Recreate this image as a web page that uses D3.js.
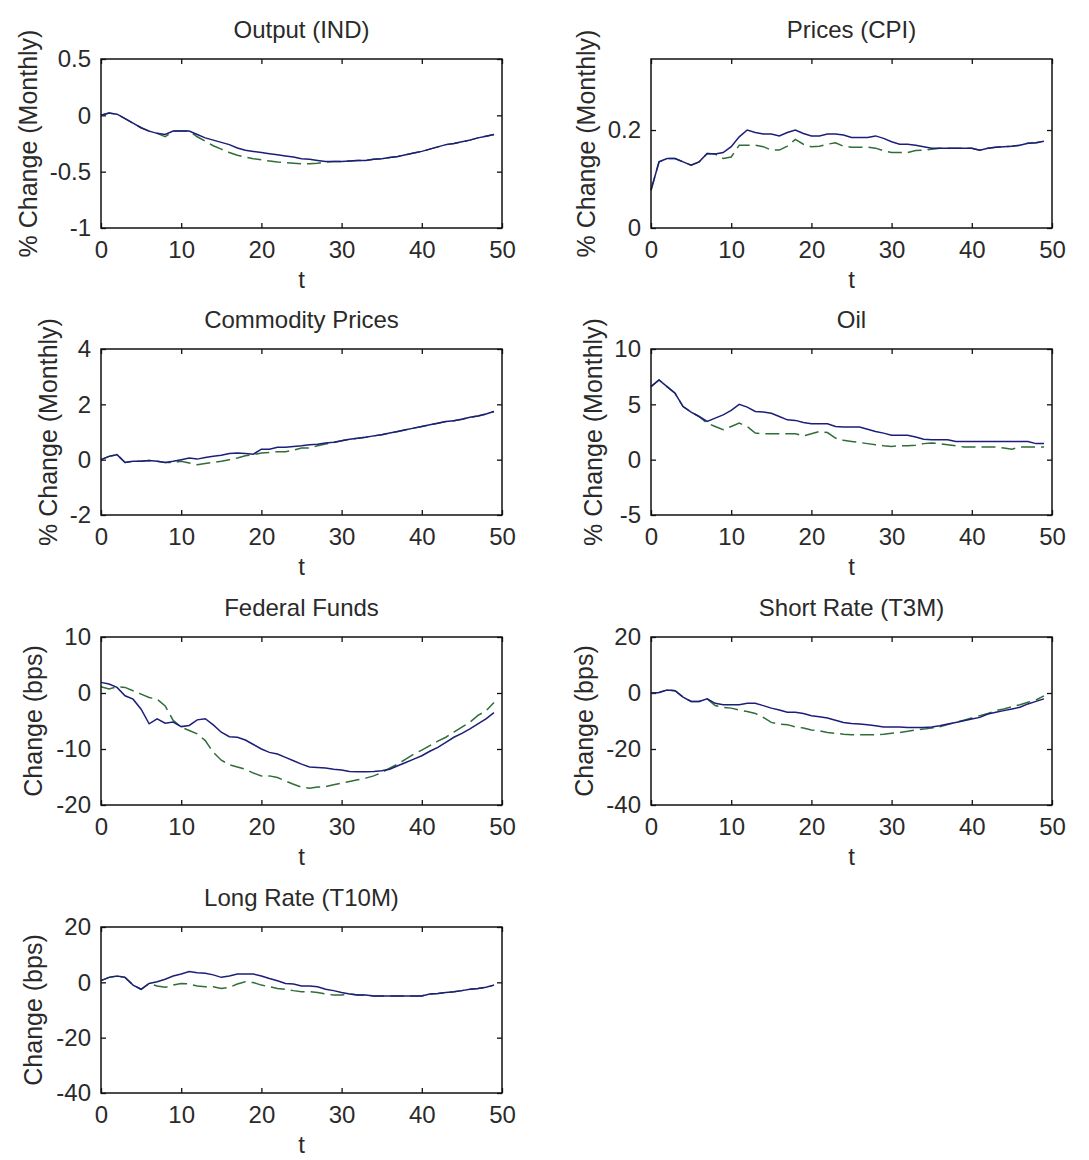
<!DOCTYPE html>
<html>
<head>
<meta charset="utf-8">
<script src="https://cdn.jsdelivr.net/npm/d3@7"></script>
<style>
  html, body { margin: 0; padding: 0; background: #ffffff; }
  svg { display: block; }
</style>
</head>
<body>
<svg id="fig" width="1089" height="1160"></svg>
<script>
// Impulse responses, horizons t = 0..49
const horizons = d3.range(0, 50);
const xTicks = [0, 10, 20, 30, 40, 50];

const titles = ["Output (IND)", "Prices (CPI)", "Commodity Prices", "Oil",
                "Federal Funds", "Short Rate (T3M)", "Long Rate (T10M)"];
const yLabels = ["% Change (Monthly)", "% Change (Monthly)", "% Change (Monthly)",
                 "% Change (Monthly)", "Change (bps)", "Change (bps)", "Change (bps)"];
const yDomains = [[-1, 0.5], [0, 0.345], [-2, 4], [-5, 10], [-20, 10], [-40, 20], [-40, 20]];
const yTicks = [[-1, -0.5, 0, 0.5], [0, 0.2], [-2, 0, 2, 4], [-5, 0, 5, 10],
                [-20, -10, 0, 10], [-40, -20, 0, 20], [-40, -20, 0, 20]];

const outputSolid = [0.0, 0.02, 0.01, -0.03, -0.07, -0.11, -0.14, -0.16, -0.17, -0.14,
  -0.14, -0.14, -0.17, -0.20, -0.22, -0.24, -0.26, -0.29, -0.31, -0.32,
  -0.33, -0.34, -0.35, -0.36, -0.37, -0.385, -0.39, -0.40, -0.41, -0.41,
  -0.41, -0.405, -0.40, -0.40, -0.39, -0.385, -0.375, -0.365, -0.35, -0.335,
  -0.32, -0.30, -0.28, -0.26, -0.25, -0.235, -0.22, -0.20, -0.185, -0.17];
const outputDashed = [0.0, 0.02, 0.01, -0.03, -0.07, -0.11, -0.14, -0.16, -0.19, -0.14,
  -0.14, -0.14, -0.19, -0.23, -0.27, -0.30, -0.33, -0.355, -0.37, -0.385,
  -0.395, -0.405, -0.415, -0.42, -0.425, -0.43, -0.43, -0.425, -0.415, -0.41,
  -0.41, -0.405, -0.40, -0.40, -0.39, -0.385, -0.375, -0.365, -0.35, -0.335,
  -0.32, -0.30, -0.28, -0.26, -0.25, -0.235, -0.22, -0.20, -0.185, -0.17];

const cpiSolid = [0.077, 0.135, 0.142, 0.142, 0.135, 0.128, 0.135, 0.152, 0.151, 0.154,
  0.166, 0.186, 0.200, 0.195, 0.192, 0.192, 0.188, 0.195, 0.200, 0.193,
  0.188, 0.188, 0.192, 0.192, 0.190, 0.185, 0.185, 0.185, 0.188, 0.183,
  0.176, 0.171, 0.171, 0.169, 0.166, 0.163, 0.163, 0.163, 0.163, 0.163,
  0.163, 0.159, 0.163, 0.165, 0.166, 0.167, 0.169, 0.173, 0.174, 0.177];
const cpiDashed = [0.077, 0.135, 0.142, 0.142, 0.135, 0.128, 0.135, 0.152, 0.151, 0.142,
  0.145, 0.169, 0.169, 0.169, 0.166, 0.159, 0.159, 0.167, 0.181, 0.171,
  0.166, 0.167, 0.171, 0.174, 0.167, 0.165, 0.165, 0.165, 0.163, 0.158,
  0.154, 0.154, 0.154, 0.158, 0.159, 0.161, 0.163, 0.163, 0.163, 0.163,
  0.163, 0.159, 0.163, 0.165, 0.166, 0.167, 0.169, 0.173, 0.174, 0.177];

const commoditySolid = [0.0, 0.12, 0.18, -0.10, -0.06, -0.06, -0.03, -0.06, -0.10, -0.06,
  0.0, 0.06, 0.02, 0.08, 0.12, 0.16, 0.22, 0.24, 0.22, 0.20,
  0.38, 0.38, 0.45, 0.45, 0.48, 0.50, 0.54, 0.56, 0.60, 0.63,
  0.68, 0.74, 0.77, 0.81, 0.86, 0.90, 0.96, 1.02, 1.08, 1.14,
  1.20, 1.26, 1.32, 1.38, 1.41, 1.46, 1.53, 1.58, 1.65, 1.74];
const commodityDashed = [0.0, 0.12, 0.18, -0.10, -0.06, -0.06, -0.03, -0.06, -0.10, -0.10,
  -0.06, -0.12, -0.18, -0.14, -0.10, -0.06, 0.0, 0.06, 0.14, 0.18,
  0.24, 0.26, 0.29, 0.29, 0.34, 0.42, 0.42, 0.50, 0.57, 0.62,
  0.68, 0.74, 0.77, 0.81, 0.86, 0.90, 0.96, 1.02, 1.08, 1.14,
  1.20, 1.26, 1.32, 1.38, 1.41, 1.46, 1.53, 1.58, 1.65, 1.74];

const oilSolid = [6.6, 7.2, 6.6, 6.0, 4.8, 4.3, 3.9, 3.45, 3.75, 4.05,
  4.45, 5.0, 4.75, 4.35, 4.3, 4.2, 3.9, 3.6, 3.55, 3.35,
  3.25, 3.25, 3.25, 3.0, 2.95, 2.95, 2.95, 2.75, 2.55, 2.4,
  2.2, 2.2, 2.2, 2.05, 1.85, 1.8, 1.8, 1.8, 1.65, 1.65,
  1.65, 1.65, 1.65, 1.65, 1.65, 1.65, 1.65, 1.65, 1.45, 1.45];
const oilDashed = [6.6, 7.2, 6.6, 6.0, 4.8, 4.3, 3.9, 3.3, 3.0, 2.7,
  3.0, 3.3, 3.0, 2.4, 2.35, 2.35, 2.35, 2.35, 2.35, 2.15,
  2.35, 2.55, 2.45, 1.95, 1.75, 1.65, 1.55, 1.45, 1.35, 1.25,
  1.2, 1.25, 1.25, 1.3, 1.45, 1.5, 1.45, 1.35, 1.25, 1.15,
  1.15, 1.15, 1.15, 1.15, 1.05, 0.95, 1.15, 1.15, 1.15, 1.15];

const fedSolid = [1.9, 1.6, 1.0, -0.5, -1.1, -2.9, -5.5, -4.6, -5.4, -5.2,
  -6.0, -5.8, -4.8, -4.6, -5.7, -7.0, -7.8, -7.9, -8.4, -9.2,
  -10.0, -10.6, -10.9, -11.5, -12.1, -12.7, -13.2, -13.3, -13.4, -13.6,
  -13.75, -14.0, -14.05, -14.05, -14.0, -13.9, -13.6, -13.0, -12.4, -11.8,
  -11.2, -10.4, -9.7, -8.8, -7.9, -7.2, -6.4, -5.5, -4.6, -3.5];
const fedDashed = [1.1, 0.7, 1.1, 1.0, 0.4, -0.2, -0.8, -1.1, -2.3, -4.9,
  -6.1, -6.7, -7.3, -8.5, -10.6, -12.0, -12.8, -13.2, -13.6, -14.3,
  -14.8, -14.8, -15.1, -15.7, -16.3, -16.8, -17.0, -16.8, -16.7, -16.4,
  -16.1, -15.8, -15.5, -15.2, -14.8, -14.2, -13.4, -12.7, -11.8, -10.9,
  -10.2, -9.4, -8.6, -7.9, -7.0, -6.1, -5.2, -4.0, -3.2, -1.7];

const shortSolid = [0.0, 0.2, 1.1, 0.8, -1.5, -3.0, -3.0, -2.1, -3.7, -4.2,
  -4.2, -4.2, -3.7, -3.7, -4.5, -5.4, -6.1, -6.9, -6.9, -7.3,
  -8.1, -8.5, -8.9, -9.7, -10.5, -10.9, -11.1, -11.3, -11.7, -12.1,
  -12.1, -12.1, -12.3, -12.3, -12.3, -12.1, -11.7, -11.1, -10.5, -9.9,
  -9.3, -8.7, -7.5, -6.9, -6.3, -5.7, -5.1, -3.9, -3.0, -2.1];
const shortDashed = [0.0, 0.2, 1.1, 0.8, -1.5, -3.0, -3.0, -2.1, -4.5, -5.1,
  -5.4, -6.1, -6.6, -7.3, -8.7, -10.5, -11.1, -11.3, -12.1, -12.5,
  -13.2, -13.5, -14.1, -14.4, -14.7, -14.9, -14.9, -14.9, -14.9, -14.7,
  -14.4, -14.1, -13.7, -13.2, -12.9, -12.5, -12.1, -11.3, -10.5, -9.7,
  -8.9, -8.1, -7.3, -6.3, -5.7, -4.9, -4.2, -3.3, -2.5, -1.0];

const longSolid = [0.6, 1.8, 2.3, 1.8, -1.0, -2.5, -0.4, 0.2, 1.1, 2.3,
  3.0, 3.9, 3.5, 3.3, 2.7, 1.8, 2.3, 3.0, 3.0, 3.0,
  2.3, 1.4, 0.6, -0.4, -0.6, -1.3, -1.3, -1.6, -2.5, -3.0,
  -3.7, -4.2, -4.6, -4.6, -4.9, -4.9, -4.9, -4.9, -4.9, -4.9,
  -4.9, -4.2, -4.0, -3.7, -3.4, -3.0, -2.5, -2.2, -1.8, -1.0];
const longDashed = [0.6, 1.8, 2.3, 1.8, -1.0, -2.5, -0.4, -1.3, -1.8, -1.0,
  -0.4, -0.6, -1.3, -1.6, -1.6, -2.2, -1.8, -0.6, 0.2, -0.1,
  -1.0, -1.6, -2.2, -2.5, -3.0, -3.4, -3.4, -3.7, -4.2, -4.6,
  -4.6, -4.2, -4.6, -4.6, -4.9, -4.9, -4.9, -4.9, -4.9, -4.9,
  -4.9, -4.2, -4.0, -3.7, -3.4, -3.0, -2.5, -2.2, -1.8, -1.0];

const solidSeries = [outputSolid, cpiSolid, commoditySolid, oilSolid, fedSolid, shortSolid, longSolid];
const dashedSeries = [outputDashed, cpiDashed, commodityDashed, oilDashed, fedDashed, shortDashed, longDashed];

// ---- layout of the 4x2 grid of axes boxes ----
const colX = [[101, 502], [651, 1052]];
const rowY = [[59, 228], [349, 515], [637, 805], [927, 1093]];
const yLabelGap = [64, 56, 44, 49, 59, 58, 59];   // baseline distance of y label from box

const FONT = "'Liberation Sans', Arial, Helvetica, sans-serif";
const TEXT = "#2a2a2a";
const SOLID = "#1d1d7a";
const DASHED = "#2f6e38";

const svg = d3.select("#fig");

titles.forEach((title, i) => {
  const col = i % 2, row = Math.floor(i / 2);
  const [x0, x1] = colX[col];
  const [y0, y1] = rowY[row];

  const x = d3.scaleLinear().domain([0, 50]).range([x0, x1]);
  const y = d3.scaleLinear().domain(yDomains[i]).range([y1, y0]);

  const g = svg.append("g").attr("font-family", FONT);

  // inward ticks on all four sides
  const fmt = d => String(d);
  const bottom = g.append("g").attr("transform", `translate(0,${y1})`)
    .call(d3.axisBottom(x).tickValues(xTicks).tickFormat(fmt).tickSizeInner(-5).tickSizeOuter(0).tickPadding(13));
  const top = g.append("g").attr("transform", `translate(0,${y0})`)
    .call(d3.axisTop(x).tickValues(xTicks).tickFormat(() => "").tickSizeInner(-5).tickSizeOuter(0));
  const left = g.append("g").attr("transform", `translate(${x0},0)`)
    .call(d3.axisLeft(y).tickValues(yTicks[i]).tickFormat(fmt).tickSizeInner(-5).tickSizeOuter(0).tickPadding(10));
  const right = g.append("g").attr("transform", `translate(${x1},0)`)
    .call(d3.axisRight(y).tickValues(yTicks[i]).tickFormat(() => "").tickSizeInner(-5).tickSizeOuter(0));

  [bottom, top, left, right].forEach(a => {
    a.select(".domain").remove();
    a.selectAll(".tick line").attr("stroke", "#111").attr("stroke-width", 1.3);
    a.selectAll(".tick text").attr("fill", TEXT).attr("font-size", 24).attr("font-family", FONT);
  });

  // series
  const line = d3.line().x((d, k) => x(horizons[k])).y(d => y(d));
  g.append("path").datum(dashedSeries[i]).attr("d", line)
    .attr("fill", "none").attr("stroke", DASHED).attr("stroke-width", 1.5)
    .attr("stroke-dasharray", "14,6");
  g.append("path").datum(solidSeries[i]).attr("d", line)
    .attr("fill", "none").attr("stroke", SOLID).attr("stroke-width", 1.5);

  // axes box
  g.append("rect").attr("x", x0).attr("y", y0)
    .attr("width", x1 - x0).attr("height", y1 - y0)
    .attr("fill", "none").attr("stroke", "#111").attr("stroke-width", 1.5);

  // title
  g.append("text").attr("x", (x0 + x1) / 2).attr("y", y0 - 21)
    .attr("text-anchor", "middle").attr("font-size", 24).attr("fill", TEXT)
    .text(title);

  // x label
  g.append("text").attr("x", (x0 + x1) / 2).attr("y", y1 + 60)
    .attr("text-anchor", "middle").attr("font-size", 24).attr("fill", TEXT)
    .text("t");

  // y label
  g.append("text")
    .attr("transform", `translate(${x0 - yLabelGap[i]},${(y0 + y1) / 2}) rotate(-90)`)
    .attr("text-anchor", "middle").attr("font-size", 25).attr("fill", TEXT)
    .text(yLabels[i]);
});
</script>
</body>
</html>
